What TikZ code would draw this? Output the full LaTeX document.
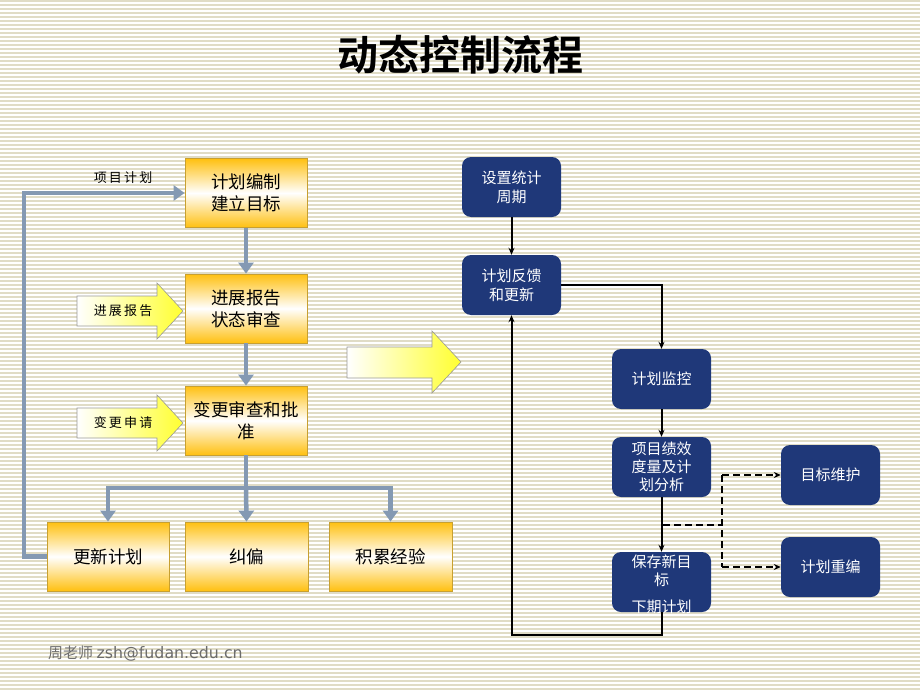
\documentclass[tikz,border=0pt]{standalone}
\usepackage{fontspec}
\newfontfamily\cjk[BoldFont={* Bold}]{Noto Sans CJK SC}
\newfontfamily\dv{DejaVu Sans}
\usetikzlibrary{arrows.meta,calc}
\definecolor{stripe}{HTML}{E0DCC6}
\definecolor{org}{HTML}{FFC010}
\definecolor{orgline}{HTML}{C8A030}
\definecolor{steel}{HTML}{8499B3}
\definecolor{navy}{HTML}{1F3879}
\definecolor{ylw}{HTML}{FFFF30}
\begin{document}
\begin{tikzpicture}[x=1pt,y=-1pt,
  obox/.style={draw=orgline,line width=0.8pt,top color=org,bottom color=org,middle color=white,
    minimum width=122pt,minimum height=69pt,font=\cjk\fontsize{17.5}{22}\selectfont,align=center,inner sep=2pt},
  nbox/.style={fill=navy,rounded corners=9pt,minimum width=99pt,minimum height=60pt,text=white,
    font=\cjk\fontsize{15}{19}\selectfont,align=center,inner sep=1pt},
  thick arrow/.style={draw=steel,line width=4.5pt,-{Triangle[length=11pt,width=15pt]}},
  thick line/.style={draw=steel,line width=4.5pt},
  blk/.style={draw=black,line width=2pt,-{Stealth[length=7pt,width=6pt]}},
  blkdash/.style={draw=black,line width=2pt,dash pattern=on 7pt off 4pt,-{Stealth[length=7pt,width=6pt]}},
  yarrow/.style={draw=gray!80,line width=0.6pt,left color=white,right color=ylw},
  lbl/.style={font=\cjk\fontsize{13}{16}\selectfont,inner sep=0pt}
]
\useasboundingbox (0,0) rectangle (920,690);
\fill[white] (0,0) rectangle (920,690);
\foreach \i in {0,...,172} {\draw[stripe,line width=1.4pt] (0,\i*4+1) -- (920,\i*4+1);}

% title
\node (title) at (460,55) {\cjk\bfseries\fontsize{41}{46}\selectfont 动态控制流程};

% left boxes
\node[obox] (b1) at (246,193) {计划编制\\建立目标};
\node[obox] (b2) at (246,308.5) {进展报告\\状态审查};
\node[obox] (b3) at (246,420.5) {变更审查和批\\准};
\node[obox] (b4) at (108,556.5) {更新计划};
\node[obox,minimum width=123pt] (b5) at (246.5,556.5) {纠偏};
\node[obox,minimum width=123pt] (b6) at (390.5,556.5) {积累经验};

% steel arrows
\draw[thick arrow] (b1.south) -- (b2.north);
\draw[thick arrow] (b2.south) -- (b3.north);
\coordinate (split) at (246,488);
\draw[thick line] (b3.south) -- (split);
\draw[thick arrow] (split) -| (b4.north);
\draw[thick arrow] (split) -- (b5.north);
\draw[thick arrow] (split) -| (b6.north);
\coordinate (fbl) at (24,556.5);
\coordinate (fbt) at (24,193);
\draw[thick arrow] (b4.west) -- (fbl) -- (fbt) -- (b1.west);
\node[lbl] (plan) at (123,178) {项\,目\,计\,划};

% yellow block arrows
\path[yarrow] (77,296) -- (157,296) -- (157,283) -- (183,311) -- (157,339) -- (157,326) -- (77,326) -- cycle;
\node[lbl] (prog) at (123,311) {进\,展\,报\,告};
\path[yarrow] (77,408) -- (157,408) -- (157,395) -- (183,423) -- (157,451) -- (157,438) -- (77,438) -- cycle;
\node[lbl] (chg) at (123,423) {变\,更\,申\,请};
\path[yarrow] (347,347) -- (432,347) -- (432,331) -- (461,362) -- (432,393) -- (432,378) -- (347,378) -- cycle;

% right navy boxes
\node[nbox] (r1) at (511.5,187) {设置统计\\周期};
\node[nbox] (r2) at (511.5,285) {计划反馈\\和更新};
\node[nbox] (r3) at (661.5,379) {计划监控};
\node[nbox,font=\cjk\fontsize{15}{18}\selectfont] (r4) at (661.5,467) {项目绩效\\度量及计\\划分析};
\node[nbox] (r5) at (661.5,582) {};
\node[font=\cjk\fontsize{15}{18}\selectfont,text=white,align=center,inner sep=0pt] (r5t) at (661.5,584)
  {保存新目\\标\\[9pt]下期计划};
\node[nbox] (r6) at (830.5,475) {目标维护};
\node[nbox] (r7) at (830.5,567) {计划重编};

% black connectors
\draw[blk] (r1.south) -- (r2.north);
\coordinate (c1) at (661.5,285);
\draw[blk] (r2.east) -- (c1) -- (r3.north);
\draw[blk] (r3.south) -- (r4.north);
\draw[blk] (r4.south) -- (r5.north);
\coordinate (c2) at (661.5,635);
\coordinate (c3) at (511.5,635);
\draw[blk] (r5.south) -- (c2) -- (c3) -- (r2.south);
% dashed
\coordinate (d0) at (663,525);
\coordinate (d1) at (722,525);
\coordinate (d2) at (722,475);
\coordinate (d3) at (722,567);
\draw[black,line width=2pt,dash pattern=on 7pt off 4pt] (d0) -- (d1);
\draw[black,line width=2pt,dash pattern=on 7pt off 4pt] (d2) -- (d3);
\draw[blkdash] (d2) -- (r6.west);
\draw[blkdash] (d3) -- (r7.west);

% footer
\node[anchor=west,text=gray!85!black,inner sep=0pt] (foot) at (48,654)
  {\cjk\fontsize{15}{17}\selectfont 周老师\ \dv\fontsize{15.8}{17}\selectfont zsh@fudan.edu.cn};
\end{tikzpicture}
\end{document}
